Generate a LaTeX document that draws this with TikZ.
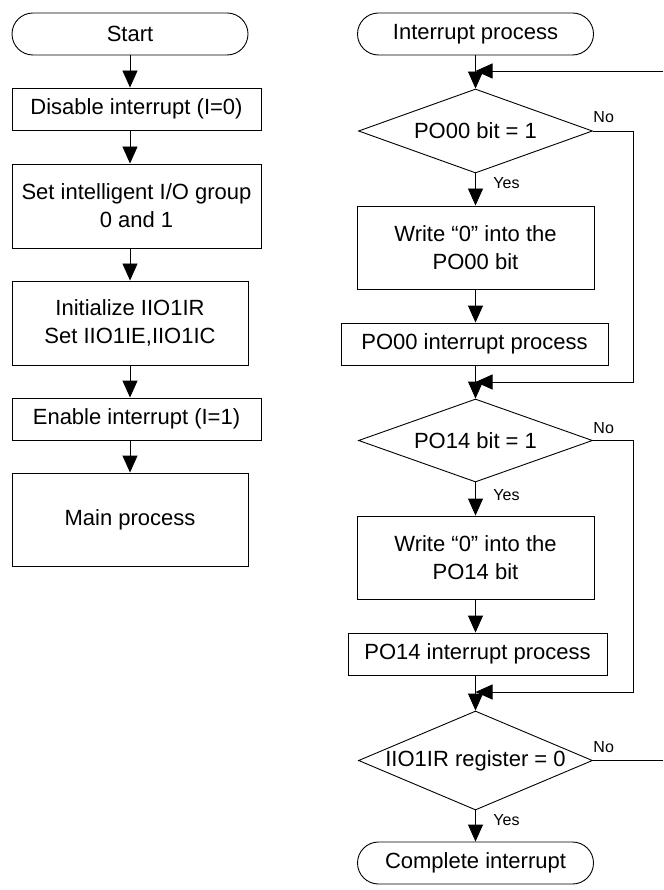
\documentclass[tikz,border=0pt]{standalone}
\usepackage{fontspec}
\setmainfont{Liberation Sans}
\usetikzlibrary{arrows.meta,shapes.geometric}

\begin{document}
\begin{tikzpicture}[x=1pt,y=-1pt,
  line width=0.9pt,
  bigfont/.style={font=\fontsize{22}{28}\selectfont},
  base/.style={draw=black, line width=0.9pt, inner sep=0pt, align=center, bigfont},
  term/.style={base, rectangle, rounded corners=21pt, minimum width=236pt, minimum height=42pt},
  proc/.style={base, rectangle, minimum height=42pt},
  decision/.style={base, diamond, minimum width=234pt},
  diamtext/.style={inner sep=0pt, bigfont},
  small/.style={inner sep=0pt, font=\fontsize{16}{18}\selectfont},
  arr/.style={-{Triangle[length=17pt,width=15pt]}},
  conn/.style={line width=0.9pt}
]
\useasboundingbox (0,0) rectangle (663,890);

% ---------- main routine ----------
\node[term] (start) at (130,34) {Start};
\node[proc, minimum width=249pt] (dis) at (136.5,109) {Disable interrupt (I=0)};
\node[proc, minimum width=249pt, minimum height=84pt] (setio) at (136.5,206)
  {Set intelligent I/O group\\0 and 1};
\node[proc, minimum width=236pt, minimum height=84pt] (init) at (130,323)
  {Initialize IIO1IR\\Set IIO1IE,IIO1IC};
\node[proc, minimum width=249pt] (ena) at (136.5,419) {Enable interrupt (I=1)};
\node[proc, minimum width=236pt, minimum height=93pt] (mainp) at (130,519.5) {Main process};

\draw[arr] (start.south) -- (start.south |- dis.north);
\draw[arr] (start.south |- dis.south) -- (start.south |- setio.north);
\draw[arr] (start.south |- setio.south) -- (init.north);
\draw[arr] (init.south) -- (init.south |- ena.north);
\draw[arr] (init.south |- ena.south) -- (mainp.north);

% ---------- interrupt routine ----------
\node[term] (ip) at (475.5,34) {Interrupt process};
\node[decision, minimum height=84pt, label={[diamtext]center:PO00 bit = 1}] (d1) at (475.5,131) {};
\node[proc, minimum width=237pt, minimum height=83pt] (w1) at (475.5,247.5)
  {Write “0” into the\\PO00 bit};
\node[proc, minimum width=267pt] (p1) at (474.5,344) {PO00 interrupt process};
\node[decision, minimum height=83pt, label={[diamtext]center:PO14 bit = 1}] (d2) at (475.5,440.5) {};
\node[proc, minimum width=237pt, minimum height=83pt] (w2) at (475.5,557.5)
  {Write “0” into the\\PO14 bit};
\node[proc, minimum width=259pt] (p2) at (477.5,654) {PO14 interrupt process};
\node[decision, minimum height=99pt, label={[diamtext]center:IIO1IR register = 0}] (d3) at (475.5,760.5) {};
\node[term] (done) at (475.5,863) {Complete interrupt};

% junction points where the loops re-enter
\coordinate (j1) at (475.5,71);
\coordinate (j2) at (475.5,382);
\coordinate (j3) at (475.5,692);
\coordinate (loopin) at (663,71);
\coordinate (loopout) at (663,760.5);
\coordinate (r1) at (633,131);
\coordinate (r2) at (633,440.5);

% main flow
\draw[conn] (ip.south) -- (j1);
\draw[arr] (j1) -- (d1.north);
\draw[arr] (d1.south) -- (w1.north);
\draw[arr] (w1.south) -- (w1.south |- p1.north);
\draw[conn] (w1.south |- p1.south) -- (j2);
\draw[arr] (j2) -- (d2.north);
\draw[arr] (d2.south) -- (w2.north);
\draw[arr] (w2.south) -- (w2.south |- p2.north);
\draw[conn] (w2.south |- p2.south) -- (j3);
\draw[arr] (j3) -- (d3.north);
\draw[arr] (d3.south) -- (done.north);

% "No" branches
\draw[arr] (d1.east) -- (r1) -- (r1 |- j2) -- (j2);
\draw[arr] (d2.east) -- (r2) -- (r2 |- j3) -- (j3);
\draw[conn] (d3.east) -- (loopout);
\draw[arr] (loopin) -- (j1);

% branch labels
\node[small, anchor=base west] (no1) at (593,123) {No};
\node[small, anchor=base west] (no2) at (593,433) {No};
\node[small, anchor=base west] (no3) at (593,752) {No};
\node[small, anchor=base west] (yes1) at (493,189) {Yes};
\node[small, anchor=base west] (yes2) at (493,500) {Yes};
\node[small, anchor=base west] (yes3) at (493,825) {Yes};
\end{tikzpicture}
\end{document}
